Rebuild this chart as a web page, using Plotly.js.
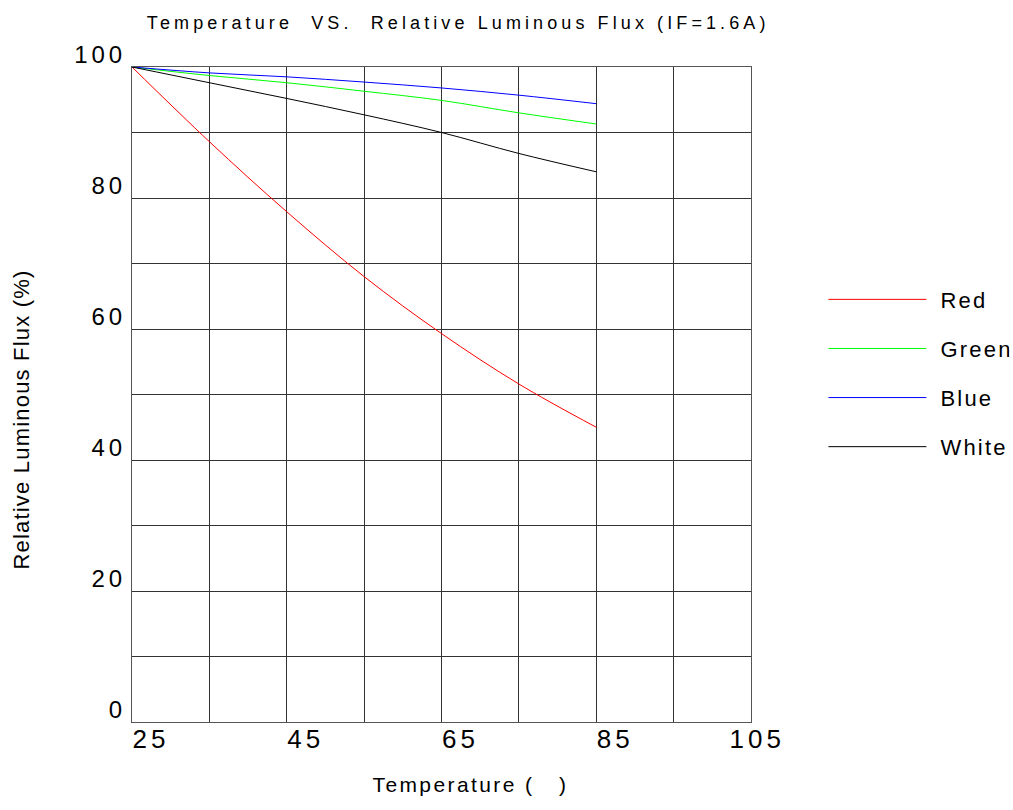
<!DOCTYPE html>
<html>
<head>
<meta charset="utf-8">
<script src="https://cdn.plot.ly/plotly-3.0.1.min.js"></script>
<style>
  html, body { margin: 0; padding: 0; background: #fff; }
  #chart { width: 1013px; height: 810px; }
  .gtitle { letter-spacing: 4.1px; }
  .xtick text { letter-spacing: 4px; }
  .xaxislayer-above .xtick:last-of-type text { translate: -22px 0px; }
  .ytick text { letter-spacing: 4px; }
  .xtitle { letter-spacing: 2.4px; translate: 29px -6px; }
  .ytitle { letter-spacing: 1.2px; translate: 2px 25px; }
  .legendtext { letter-spacing: 2.2px; translate: 9px 0px; }
</style>
</head>
<body>
<div id="chart"></div>
<script>
const temperature = [25, 35, 45, 55, 65, 75, 85];
const redFlux   = [100, 88.6, 77.9, 68.0, 59.3, 51.6, 45.0];
const greenFlux = [100, 98.7, 97.6, 96.3, 94.9, 93.0, 91.3];
const blueFlux  = [100, 99.1, 98.5, 97.7, 96.8, 95.7, 94.4];
const whiteFlux = [100, 97.6, 95.2, 92.7, 90.0, 86.8, 84.0];

const seriesNames = ['Red', 'Green', 'Blue', 'White'];
const seriesValues = [redFlux, greenFlux, blueFlux, whiteFlux];
const seriesColors = ['#ff0000', '#00ff00', '#0000ff', '#000000'];

const xTickVals = [25, 45, 65, 85, 105];
const yTickVals = [0, 20, 40, 60, 80, 100];

const traces = seriesNames.map((name, i) => ({
  x: temperature,
  y: seriesValues[i],
  name: name,
  type: 'scatter',
  mode: 'lines',
  line: { color: seriesColors[i], width: 1, shape: 'spline', smoothing: 1 },
  legendgroup: name
}));

const font = 'Arial, "Liberation Sans", sans-serif';

const layout = {
  width: 1013,
  height: 810,
  paper_bgcolor: '#ffffff',
  plot_bgcolor: '#ffffff',
  margin: { l: 132, r: 262, t: 67, b: 88, autoexpand: false },
  font: { family: font, color: '#000000' },
  title: {
    text: 'Temperature\u00A0 VS.\u00A0 Relative Luminous Flux (IF=1.6A)',
    font: { family: font, size: 18, color: '#000' },
    x: 0.527, xref: 'paper', xanchor: 'center',
    y: 0.972, yref: 'container', yanchor: 'middle'
  },
  xaxis: {
    range: [25, 105],
    tickmode: 'array',
    tickvals: xTickVals,
    ticktext: xTickVals.map(String),
    ticks: '',
    ticklabelposition: 'outside right',
    ticklabelstandoff: -6,
    tickfont: { family: font, size: 26, color: '#000' },
    showgrid: true, gridcolor: '#333', gridwidth: 1,
    minor: { dtick: 10, tick0: 25, showgrid: true, gridcolor: '#333', gridwidth: 1, ticks: '' },
    showline: true, linecolor: '#555', linewidth: 1, mirror: true,
    zeroline: false,
    fixedrange: true,
    title: { text: 'Temperature (\u00A0\u00A0\u00A0)', font: { family: font, size: 21, color: '#000' }, standoff: 30 }
  },
  yaxis: {
    range: [0, 100],
    tickmode: 'array',
    tickvals: yTickVals,
    ticktext: yTickVals.map(String),
    ticks: '',
    ticklabelposition: 'outside top',
    ticklabelshift: 4,
    tickfont: { family: font, size: 24, color: '#000' },
    showgrid: true, gridcolor: '#333', gridwidth: 1,
    minor: { dtick: 10, tick0: 0, showgrid: true, gridcolor: '#333', gridwidth: 1, ticks: '' },
    showline: true, linecolor: '#555', linewidth: 1, mirror: true,
    zeroline: false,
    fixedrange: true,
    title: { text: 'Relative Luminous Flux (%)', font: { family: font, size: 22, color: '#000' }, standoff: 40 }
  },
  showlegend: true,
  legend: {
    x: 1.117, xanchor: 'left', xref: 'paper',
    y: 0.677, yanchor: 'top', yref: 'paper',
    font: { family: font, size: 22, color: '#000' },
    itemwidth: 98,
    tracegroupgap: 17.5,
    bgcolor: 'rgba(0,0,0,0)',
    borderwidth: 0
  }
};

Plotly.newPlot('chart', traces, layout, { displayModeBar: false, staticPlot: true });
</script>
</body>
</html>
